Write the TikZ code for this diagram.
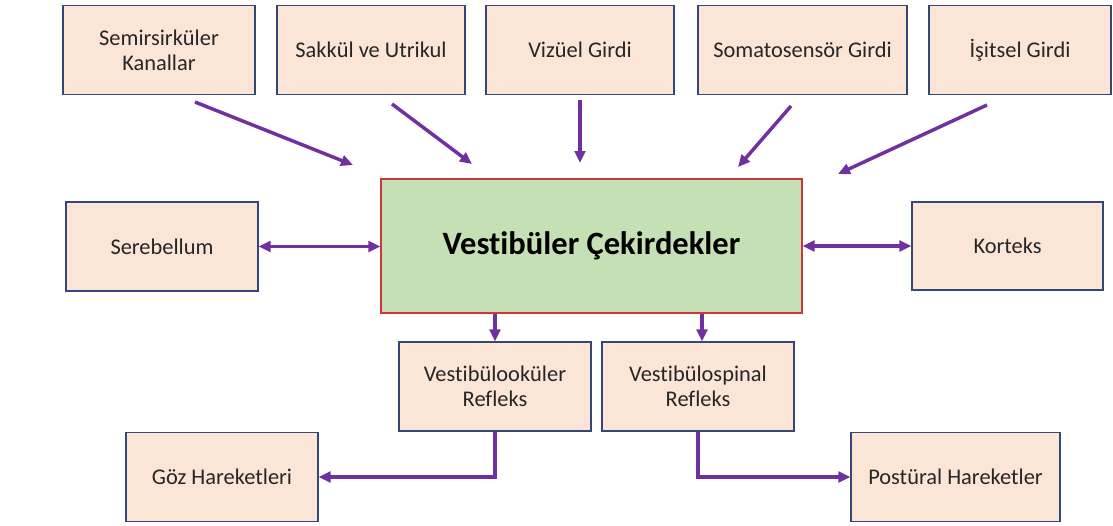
\documentclass[tikz,border=0pt]{standalone}
\usepackage{fontspec}
\setmainfont{Carlito}[Ligatures=CommonOff]
\usepackage{tikz}
\usetikzlibrary{arrows.meta,calc,positioning}
\definecolor{kutu}{RGB}{251,229,214}
\definecolor{kenar}{RGB}{52,72,120}
\definecolor{yesil}{RGB}{197,224,180}
\definecolor{kirmizi}{RGB}{205,55,55}
\definecolor{mor}{RGB}{112,48,160}

\begin{document}
\begin{tikzpicture}[x=0.75pt,y=-0.75pt,
		kutu/.style={draw=kenar,line width=0.9pt,fill=kutu,inner sep=0pt,
			minimum width=144pt,minimum height=67pt,align=center,
			text=black!85,font=\fontsize{16.8}{18.5}\selectfont},
		merkez/.style={draw=kirmizi,line width=0.9pt,fill=yesil,inner sep=0pt,
			minimum width=315.75pt,minimum height=100.5pt,
			font=\fontsize{24.4}{28}\selectfont\bfseries},
		ok/.style={draw=mor,line width=2.6pt,-{Triangle[length=9pt,width=8pt]}},
		ciftok/.style={draw=mor,line width=2.6pt,{Triangle[length=9pt,width=8pt]}-{Triangle[length=9pt,width=8pt]}}]
		\useasboundingbox (0,0) rectangle (1113,525);
		% ust satir
		\node[kutu] (semi) at (159,50) {Semirsirküler\\Kanallar};
		\node[kutu,minimum width=141pt] (sakkul) at (371,50) {Sakkül ve Utrikul};
		\node[kutu,minimum width=141pt] (vizuel) at (580,50) {Vizüel Girdi};
		\node[kutu,minimum width=156.75pt] (soma) at (802.5,50) {Somatosensör Girdi};
		\node[kutu,minimum width=136.5pt] (isitsel) at (1020,50) {İşitsel Girdi};
		% orta satir
		\node[merkez] (cekirdek) at (591.5,246) {Vestibüler Çekirdekler};
		\node[kutu,minimum height=66.75pt] (sereb) at (162,246.5) {Serebellum};
		\node[kutu,minimum width=143.25pt,minimum height=66pt] (korteks) at (1007.5,246) {Korteks};
		% refleksler
		\node[kutu,minimum height=66.75pt] (vor) at (495,386.5) {Vestibülooküler\\Refleks};
		\node[kutu,minimum height=66.75pt] (vsr) at (698,386.5) {Vestibülospinal\\Refleks};
		\node[kutu] (goz) at (222,477) {Göz Hareketleri};
		\node[kutu,minimum width=156.75pt] (postural) at (955.5,477) {Postüral Hareketler};
		% serbest ok uclari
		\coordinate (semi-a) at (195,102);
		\coordinate (semi-b) at (353,165);
		\coordinate (sakkul-a) at (392,104);
		\coordinate (sakkul-b) at (472,164);
		\coordinate (vizuel-a) at (580,100);
		\coordinate (vizuel-b) at (580,163);
		\coordinate (soma-a) at (791,106);
		\coordinate (soma-b) at (738,167);
		\coordinate (isitsel-a) at (987,105);
		\coordinate (isitsel-b) at (838,174);
		\draw[ok] (semi-a) to (semi-b);
		\draw[ok] (sakkul-a) to (sakkul-b);
		\draw[ok] (vizuel-a) to (vizuel-b);
		\draw[ok] (soma-a) to (soma-b);
		\draw[ok] (isitsel-a) to (isitsel-b);
		\draw[ciftok] (sereb.east) to (sereb.east -| cekirdek.west);
		\draw[ciftok] (cekirdek.east |- korteks.west) to (korteks.west);
		\draw[ok] (cekirdek.south -| vor.north) to (vor.north);
		\draw[ok] ([xshift=3pt]cekirdek.south -| vsr.north) to ([xshift=3pt]vsr.north);
		\draw[ok] (vor.south) |- (goz.east);
		\draw[ok] (vsr.south) |- (postural.west);
	\end{tikzpicture}
\end{document}
